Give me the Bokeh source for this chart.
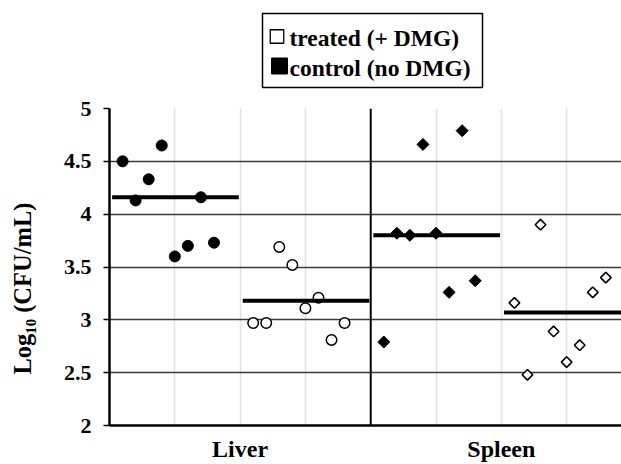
import math
from bokeh.plotting import figure
from bokeh.models import FixedTicker, Span
from bokeh.layouts import column, row
from bokeh.core.properties import value
from bokeh.embed import file_html
from bokeh.resources import INLINE

# ---- data ----
groups = ["Liver", "Spleen"]
legend_labels = ["treated (+ DMG)", "control (no DMG)"]
liver_control = [4.50, 4.13, 4.33, 4.65, 3.60, 3.70, 4.16, 3.73]
liver_treated = [2.97, 2.97, 3.69, 3.52, 3.11, 3.21, 2.81, 2.97]
spleen_control = [2.79, 3.82, 3.80, 4.66, 3.82, 3.26, 4.79, 3.37]
spleen_treated = [3.16, 2.48, 3.90, 2.89, 2.60, 2.76, 3.26, 3.40]
mean_liver_control = 4.16
mean_liver_treated = 3.18
mean_spleen_control = 3.80
mean_spleen_treated = 3.07
y_ticks = [2, 2.5, 3, 3.5, 4, 4.5, 5]
y_tick_labels = ["2", "2.5", "3", "3.5", "4", "4.5", "5"]
y_title = "Log\u2081\u2080 (CFU/mL)"

FONT = "Liberation Serif"


def blank(fig):
    fig.axis.visible = False
    fig.grid.visible = False
    fig.outline_line_color = None
    fig.background_fill_color = "white"
    fig.border_fill_color = "white"
    fig.min_border = 0
    return fig


# ---------- legend strip (top) ----------
TOP_H = 96
top = blank(figure(width=621, height=TOP_H, output_backend="svg", toolbar_location=None,
                   x_range=(0, 621), y_range=(TOP_H, 0)))
top.quad(left=[262], right=[482], top=[13], bottom=[87], fill_color="white",
         line_color="black", line_width=1.5)
top.scatter([276.5], [36], marker="square", size=13.5, fill_color="white",
            line_color="black", line_width=1.3)
top.scatter([279], [65.5], marker="square", size=16, fill_color="black",
            line_color="black")
top.text(x=[289, 289], y=[37, 67], text=legend_labels, text_font=value(FONT),
         text_font_style="bold", text_font_size="23.5px", text_color="black",
         text_align="left", text_baseline="middle")

# ---------- y title strip (left) ----------
MAIN_H = 464 - TOP_H
LEFT_W = 48
left = blank(figure(width=LEFT_W, height=MAIN_H, output_backend="svg",
                    toolbar_location=None, x_range=(0, LEFT_W), y_range=(MAIN_H, 0)))
left.text(x=[22], y=[305 - TOP_H], text=[y_title], angle=math.pi / 2,
          text_font=value(FONT), text_font_style="bold", text_font_size="24.5px",
          text_color="black", text_align="center", text_baseline="middle")

# ---------- main plot ----------
p = figure(width=621 - LEFT_W, height=MAIN_H, output_backend="svg", toolbar_location=None,
           x_range=(0, 7.84), y_range=(2, 5),
           min_border_left=109 - LEFT_W, min_border_right=0, min_border_top=12,
           min_border_bottom=36)
p.outline_line_color = None
p.background_fill_color = "white"
p.border_fill_color = "white"


def xs(start, n):
    return [start + 0.2 * (i + 1) for i in range(n)]


p.scatter(xs(0, len(liver_control)), liver_control, marker="circle", size=11,
          fill_color="black", line_color="black")
p.scatter(xs(2, len(liver_treated)), liver_treated, marker="circle", size=10.5,
          fill_color="white", line_color="black", line_width=1.5)
p.scatter(xs(4, len(spleen_control)), spleen_control, marker="square", angle=math.pi / 4,
          size=8.5, fill_color="black", line_color="black")
p.scatter(xs(6, len(spleen_treated)), spleen_treated, marker="square", angle=math.pi / 4,
          size=7.5, fill_color="white", line_color="black", line_width=1.6)

means = [mean_liver_control, mean_liver_treated, mean_spleen_control, mean_spleen_treated]
starts = [0, 2, 4, 6]
p.segment(x0=[s + 0.04 for s in starts], x1=[s + 1.98 for s in starts],
          y0=means, y1=means, line_color="black", line_width=4)

p.add_layout(Span(location=4, dimension="height", line_color="black", line_width=2))

p.ygrid.ticker = FixedTicker(ticks=y_ticks)
p.ygrid.grid_line_color = "#3a3a3a"
p.ygrid.grid_line_width = 1.7
p.xgrid.ticker = FixedTicker(ticks=[1, 2, 3, 5, 6, 7])
p.xgrid.grid_line_color = "#e2e2e2"
p.xgrid.grid_line_width = 1.5

p.yaxis.ticker = FixedTicker(ticks=y_ticks)
p.yaxis.major_label_overrides = {t: l for t, l in zip(y_ticks, y_tick_labels)}
p.yaxis.major_label_text_font = FONT
p.yaxis.major_label_text_font_style = "bold"
p.yaxis.major_label_text_font_size = "22px"
p.yaxis.major_label_text_color = "black"
p.yaxis.major_label_standoff = 12
p.yaxis.axis_line_width = 2.5
p.yaxis.axis_line_color = "black"
p.yaxis.major_tick_out = 6
p.yaxis.major_tick_in = 0
p.yaxis.major_tick_line_width = 1.5
p.yaxis.minor_tick_line_color = None

p.xaxis.ticker = FixedTicker(ticks=[2, 6])
p.xaxis.major_label_overrides = {2: groups[0], 6: groups[1]}
p.xaxis.major_label_text_font = FONT
p.xaxis.major_label_text_font_style = "bold"
p.xaxis.major_label_text_font_size = "24px"
p.xaxis.major_label_text_color = "black"
p.xaxis.major_label_standoff = 10
p.xaxis.axis_line_width = 2.5
p.xaxis.axis_line_color = "black"
p.xaxis.major_tick_out = 0
p.xaxis.major_tick_in = 0
p.xaxis.minor_tick_line_color = None

layout = column(top, row(left, p, spacing=0), spacing=0)

open("out.html", "w").write(file_html(layout, INLINE))
